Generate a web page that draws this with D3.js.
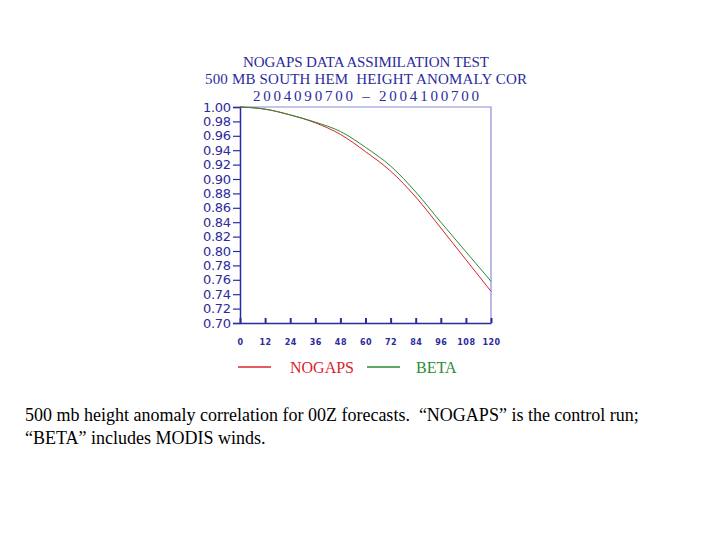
<!DOCTYPE html>
<html lang="en">
<head>
    <meta charset="UTF-8">
    <title>NOGAPS Data Assimilation Test</title>
    <style>
        body { margin: 0; background: #ffffff; }
        svg { display: block; }
        .caption { font-family: "Liberation Serif", "Times New Roman", serif; font-size: 18px; fill: #000; }
    </style>
</head>
<body>
    <div id="chart"></div>

    <script src="https://d3js.org/d3.v7.min.js"></script>

    <script>
        // Forecast hours and anomaly correlations
        var hours = [0, 12, 24, 36, 48, 60, 72, 84, 96, 108, 120];
        var nogaps = [1.000, 0.997, 0.989, 0.978, 0.962, 0.938, 0.911, 0.875, 0.832, 0.788, 0.744];
        var beta   = [1.000, 0.997, 0.989, 0.979, 0.966, 0.944, 0.918, 0.882, 0.840, 0.799, 0.758];

        var xTicks = [0, 12, 24, 36, 48, 60, 72, 84, 96, 108, 120];
        var yTicks = [0.70, 0.72, 0.74, 0.76, 0.78, 0.80, 0.82, 0.84, 0.86, 0.88, 0.90,
                      0.92, 0.94, 0.96, 0.98, 1.00];

        var titleLines = ["NOGAPS DATA ASSIMILATION TEST",
                          "500 MB SOUTH HEM  HEIGHT ANOMALY COR",
                          "2004090700 \u2013 2004100700"];

        var width = 720, height = 540;
        var blue = "#2b2b9c";

        var svg = d3.select("#chart")
                    .append("svg")
                    .attr("width", width)
                    .attr("height", height);

        // plot box
        var x = d3.scaleLinear().domain([0, 120]).range([240, 491]);
        var y = d3.scaleLinear().domain([0.70, 1.00]).range([323, 107]);

        // title
        svg.selectAll(".title")
            .data(titleLines)
            .enter()
            .append("text")
            .attr("class", "title")
            .attr("x", 366)
            .attr("y", function(d, i) { return 67 + i * 17; })
            .attr("text-anchor", "middle")
            .attr("fill", blue)
            .attr("font-family", "'Liberation Serif', serif")
            .attr("font-size", "15px")
            .attr("textLength", function(d, i) { return [246, 322, 226][i]; })
            .attr("lengthAdjust", "spacing")
            .style("white-space", "pre")
            .text(function(d) { return d; });

        // frame (top and right)
        svg.append("path")
            .attr("d", "M" + x(0) + "," + y(1) + "H" + x(120) + "V" + y(0.70))
            .attr("fill", "none")
            .attr("stroke", "#8c8cd8")
            .attr("stroke-width", 1.2);

        // y axis
        var yAxis = d3.axisLeft(y)
            .tickValues(yTicks)
            .tickSize(7)
            .tickPadding(2)
            .tickFormat(d3.format(".2f"));
        var gy = svg.append("g")
            .attr("transform", "translate(" + x(0) + ",0)")
            .call(yAxis);
        gy.select(".domain").attr("stroke", blue).attr("stroke-width", 1.5);
        gy.selectAll(".tick line").attr("stroke", blue).attr("stroke-width", 1.2);
        gy.selectAll(".tick text")
            .attr("fill", blue)
            .attr("font-family", "'DejaVu Sans', sans-serif")
            .attr("font-size", "13px")
            .attr("textLength", 28)
            .attr("lengthAdjust", "spacing");

        // x axis (ticks point inward)
        var xAxis = d3.axisBottom(x)
            .tickValues(xTicks)
            .tickSizeInner(-5)
            .tickSizeOuter(0)
            .tickPadding(16);
        var gx = svg.append("g")
            .attr("transform", "translate(0," + y(0.70) + ")")
            .call(xAxis);
        gx.select(".domain").attr("stroke", blue).attr("stroke-width", 1.5);
        gx.selectAll(".tick line").attr("stroke", blue).attr("stroke-width", 2);
        gx.selectAll(".tick text")
            .attr("fill", blue)
            .attr("font-family", "'DejaVu Sans', sans-serif")
            .attr("font-weight", "bold")
            .attr("font-size", "8px")
            .attr("letter-spacing", "0.5px");

        // curves
        var series = [
            { name: "NOGAPS", values: nogaps, color: "#d9232e" },
            { name: "BETA", values: beta, color: "#2a8a36" }
        ];

        var line = d3.line()
            .x(function(d, i) { return x(hours[i]); })
            .y(function(d) { return y(d); })
            .curve(d3.curveMonotoneX);

        svg.selectAll(".series")
            .data(series)
            .enter()
            .append("path")
            .attr("class", "series")
            .attr("d", function(d) { return line(d.values); })
            .attr("fill", "none")
            .attr("stroke", function(d) { return d.color; })
            .attr("stroke-width", 1);

        // legend
        var legend = svg.selectAll(".legend")
            .data(series)
            .enter()
            .append("g")
            .attr("class", "legend")
            .attr("transform", function(d, i) { return "translate(" + (238 + i * 129) + ",367)"; });

        legend.append("line")
            .attr("x1", 0).attr("x2", 33)
            .attr("y1", 0).attr("y2", 0)
            .attr("stroke", function(d) { return d.color; })
            .attr("stroke-width", 1.5);

        legend.append("text")
            .attr("x", function(d, i) { return i === 0 ? 52 : 49; })
            .attr("y", 6)
            .attr("fill", function(d) { return d.color; })
            .attr("font-family", "'Liberation Serif', serif")
            .attr("font-size", "16px")
            .text(function(d) { return d.name; });

        // caption
        svg.append("text")
            .attr("class", "caption")
            .attr("x", 25)
            .attr("y", 421)
            .style("white-space", "pre")
            .text("500 mb height anomaly correlation for 00Z forecasts.  \u201cNOGAPS\u201d is the control run;");
        svg.append("text")
            .attr("class", "caption")
            .attr("x", 25)
            .attr("y", 444)
            .text("\u201cBETA\u201d includes MODIS winds.");
    </script>
</body>
</html>
